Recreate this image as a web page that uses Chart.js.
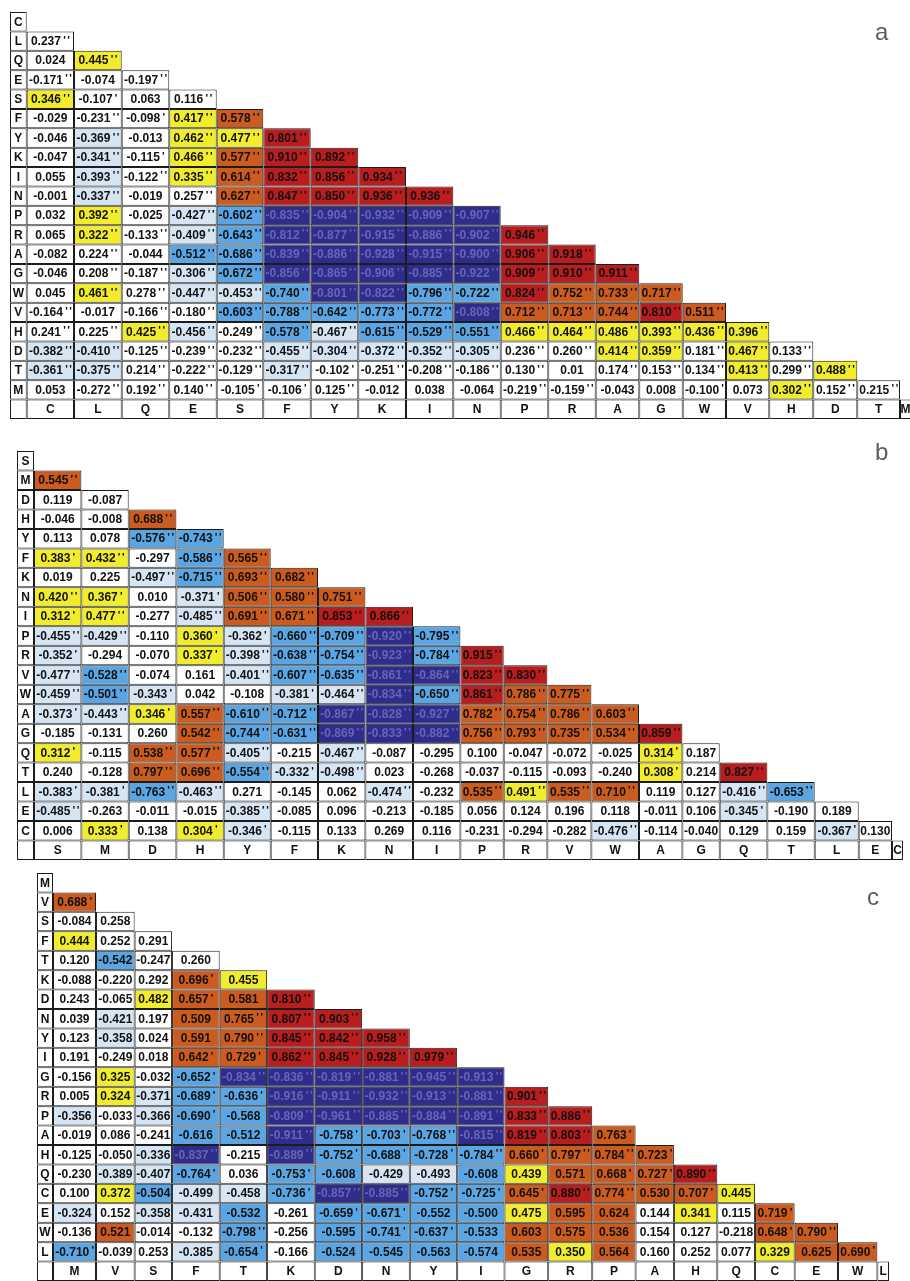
<!DOCTYPE html>
<html>
<head>
<meta charset="utf-8">
<script src="https://cdn.jsdelivr.net/npm/chart.js@4.4.1/dist/chart.umd.min.js"></script>
<style>
  html, body { margin: 0; padding: 0; width: 910px; height: 1281px; overflow: hidden; background: #fff; }
  canvas { position: absolute; }
  .tag { position: absolute; font: 24px "Liberation Sans", Arial, sans-serif; color: #5c5c5c; line-height: 24px; }
</style>
</head>
<body>
<canvas id="panelA" width="901" height="407" style="left:10px;top:12px;width:901px;height:407px"></canvas>
<canvas id="panelB" width="886" height="409" style="left:17px;top:451px;width:886px;height:409px"></canvas>
<canvas id="panelC" width="852" height="408" style="left:37px;top:873px;width:852px;height:408px"></canvas>
<div class="tag" style="left:875px;top:20px">a</div>
<div class="tag" style="left:875px;top:440px">b</div>
<div class="tag" style="left:867px;top:885px">c</div>
<script>
// ---- panel a: residue order and lower-triangle correlations (' = p<0.05, '' = p<0.01)
const aOrder = ['C','L','Q','E','S','F','Y','K','I','N','P','R','A','G','W','V','H','D','T','M'];
const aCells = [
  [],
  ["0.237''"],
  ["0.024","0.445''"],
  ["-0.171''","-0.074","-0.197''"],
  ["0.346''","-0.107'","0.063","0.116''"],
  ["-0.029","-0.231''","-0.098'","0.417''","0.578''"],
  ["-0.046","-0.369''","-0.013","0.462''","0.477''","0.801''"],
  ["-0.047","-0.341''","-0.115'","0.466''","0.577''","0.910''","0.892''"],
  ["0.055","-0.393''","-0.122''","0.335''","0.614''","0.832''","0.856''","0.934''"],
  ["-0.001","-0.337''","-0.019","0.257''","0.627''","0.847''","0.850''","0.936''","0.936''"],
  ["0.032","0.392''","-0.025","-0.427''","-0.602''","-0.835''","-0.904''","-0.932''","-0.909''","-0.907''"],
  ["0.065","0.322''","-0.133''","-0.409''","-0.643''","-0.812''","-0.877''","-0.915''","-0.886''","-0.902''","0.946''"],
  ["-0.082","0.224''","-0.044","-0.512''","-0.686''","-0.839''","-0.886''","-0.928''","-0.915''","-0.900''","0.906''","0.918''"],
  ["-0.046","0.208''","-0.187''","-0.306''","-0.672''","-0.856''","-0.865''","-0.906''","-0.885''","-0.922''","0.909''","0.910''","0.911''"],
  ["0.045","0.461''","0.278''","-0.447''","-0.453''","-0.740''","-0.801''","-0.822''","-0.796''","-0.722''","0.824''","0.752''","0.733''","0.717''"],
  ["-0.164''","-0.017","-0.166''","-0.180''","-0.603''","-0.788''","-0.642''","-0.773''","-0.772''","-0.808''","0.712''","0.713''","0.744''","0.810''","0.511''"],
  ["0.241''","0.225''","0.425''","-0.456''","-0.249''","-0.578''","-0.467''","-0.615''","-0.529''","-0.551''","0.466''","0.464''","0.486''","0.393''","0.436''","0.396''"],
  ["-0.382''","-0.410''","-0.125''","-0.239''","-0.232''","-0.455''","-0.304''","-0.372''","-0.352''","-0.305''","0.236''","0.260''","0.414''","0.359''","0.181''","0.467''","0.133''"],
  ["-0.361''","-0.375''","0.214''","-0.222''","-0.129''","-0.317''","-0.102'","-0.251''","-0.208''","-0.186''","0.130''","0.01","0.174''","0.153''","0.134''","0.413''","0.299''","0.488''"],
  ["0.053","-0.272''","0.192''","0.140''","-0.105'","-0.106'","0.125''","-0.012","0.038","-0.064","-0.219''","-0.159''","-0.043","0.008","-0.100'","0.073","0.302''","0.152''","0.215''"]
];

// ---- panel b
const bOrder = ['S','M','D','H','Y','F','K','N','I','P','R','V','W','A','G','Q','T','L','E','C'];
const bCells = [
  [],
  ["0.545''"],
  ["0.119","-0.087"],
  ["-0.046","-0.008","0.688''"],
  ["0.113","0.078","-0.576''","-0.743''"],
  ["0.383'","0.432''","-0.297","-0.586''","0.565''"],
  ["0.019","0.225","-0.497''","-0.715''","0.693''","0.682''"],
  ["0.420''","0.367'","0.010","-0.371'","0.506''","0.580''","0.751''"],
  ["0.312'","0.477''","-0.277","-0.485''","0.691''","0.671''","0.853''","0.866''"],
  ["-0.455''","-0.429''","-0.110","0.360'","-0.362'","-0.660''","-0.709''","-0.920''","-0.795''"],
  ["-0.352'","-0.294","-0.070","0.337'","-0.398''","-0.638''","-0.754''","-0.923''","-0.784''","0.915''"],
  ["-0.477''","-0.528''","-0.074","0.161","-0.401''","-0.607''","-0.635''","-0.861''","-0.864''","0.823''","0.830''"],
  ["-0.459''","-0.501''","-0.343'","0.042","-0.108","-0.381'","-0.464''","-0.834''","-0.650''","0.861''","0.786''","0.775''"],
  ["-0.373'","-0.443''","0.346'","0.557''","-0.610''","-0.712''","-0.867''","-0.828''","-0.927''","0.782''","0.754''","0.786''","0.603''"],
  ["-0.185","-0.131","0.260","0.542''","-0.744''","-0.631''","-0.869''","-0.833''","-0.882''","0.756''","0.793''","0.735''","0.534''","0.859''"],
  ["0.312'","-0.115","0.538''","0.577''","-0.405''","-0.215","-0.467''","-0.087","-0.295","0.100","-0.047","-0.072","-0.025","0.314'","0.187"],
  ["0.240","-0.128","0.797''","0.696''","-0.554''","-0.332'","-0.498''","0.023","-0.268","-0.037","-0.115","-0.093","-0.240","0.308'","0.214","0.827''"],
  ["-0.383'","-0.381'","-0.763''","-0.463''","0.271","-0.145","0.062","-0.474''","-0.232","0.535''","0.491''","0.535''","0.710''","0.119","0.127","-0.416''","-0.653''"],
  ["-0.485''","-0.263","-0.011","-0.015","-0.385''","-0.085","0.096","-0.213","-0.185","0.056","0.124","0.196","0.118","-0.011","0.106","-0.345'","-0.190","0.189"],
  ["0.006","0.333'","0.138","0.304'","-0.346'","-0.115","0.133","0.269","0.116","-0.231","-0.294","-0.282","-0.476''","-0.114","-0.040","0.129","0.159","-0.367'","0.130"]
];

// ---- panel c
const cOrder = ['M','V','S','F','T','K','D','N','Y','I','G','R','P','A','H','Q','C','E','W','L'];
const cCells = [
  [],
  ["0.688'"],
  ["-0.084","0.258"],
  ["0.444","0.252","0.291"],
  ["0.120","-0.542","-0.247","0.260"],
  ["-0.088","-0.220","0.292","0.696'","0.455"],
  ["0.243","-0.065","0.482","0.657'","0.581","0.810''"],
  ["0.039","-0.421","0.197","0.509","0.765''","0.807''","0.903''"],
  ["0.123","-0.358","0.024","0.591","0.790''","0.845''","0.842''","0.958''"],
  ["0.191","-0.249","0.018","0.642'","0.729'","0.862''","0.845''","0.928''","0.979''"],
  ["-0.156","0.325","-0.032","-0.652'","-0.834''","-0.836''","-0.819''","-0.881''","-0.945''","-0.913''"],
  ["0.005","0.324","-0.371","-0.689'","-0.636'","-0.916''","-0.911''","-0.932''","-0.913''","-0.881''","0.901''"],
  ["-0.356","-0.033","-0.366","-0.690'","-0.568","-0.809''","-0.961''","-0.885''","-0.884''","-0.891''","0.833''","0.886''"],
  ["-0.019","0.086","-0.241","-0.616","-0.512","-0.911''","-0.758'","-0.703'","-0.768''","-0.815''","0.819''","0.803''","0.763'"],
  ["-0.125","-0.050","-0.336","-0.837''","-0.215","-0.889''","-0.752'","-0.688'","-0.728'","-0.784''","0.660'","0.797''","0.784''","0.723'"],
  ["-0.230","-0.389","-0.407","-0.764'","0.036","-0.753'","-0.608","-0.429","-0.493","-0.608","0.439","0.571","0.668'","0.727'","0.890''"],
  ["0.100","0.372","-0.504","-0.499","-0.458","-0.736'","-0.857''","-0.885''","-0.752'","-0.725'","0.645'","0.880''","0.774''","0.530","0.707'","0.445"],
  ["-0.324","0.152","-0.358","-0.431","-0.532","-0.261","-0.659'","-0.671'","-0.552","-0.500","0.475","0.595","0.624","0.144","0.341","0.115","0.719'"],
  ["-0.136","0.521","-0.014","-0.132","-0.798''","-0.256","-0.595","-0.741'","-0.637'","-0.533","0.603","0.575","0.536","0.154","0.127","-0.218","0.648'","0.790''"],
  ["-0.710'","-0.039","0.253","-0.385","-0.654'","-0.166","-0.524","-0.545","-0.563","-0.574","0.535","0.350","0.564","0.160","0.252","0.077","0.329","0.625","0.690'"]
];

// ---- table layout: label column width, then one width per residue column (last one only holds a label)
const aColWidths = [16.7,47.3,47.7,47.6,47.4,46.6,47.4,47.6,47.7,47.3,47.4,47.6,47.4,43.6,43.4,43.3,43.3,44,44,42.7,11];
const bColWidths = [17,47.4,47.3,47.7,47.3,47,47.3,47.4,47.6,47.4,43.3,43.7,44,47.6,43.4,37.3,47.7,47.3,44,33.3,11];
const cColWidths = [16,43,38.6,37.4,47.6,47.4,47.6,47.4,47.6,47.4,47.3,43.7,44,43.3,38.3,43.4,37.6,39.7,43.3,39.4,11.6];

// colour classes by correlation strength
const FILL = {
  red: '#b91d1e', orange: '#cc5b1f', yellow: '#f1ec2c',
  navy: '#2f2d8c', blue: '#5ba6e2', pale: '#d5e5f4', none: '#ffffff'
};
function fillFor(v) {
  if (v >= 0.8) return FILL.red;
  if (v >= 0.5) return FILL.orange;
  if (v >= 0.3) return FILL.yellow;
  if (v <= -0.8) return FILL.navy;
  if (v <= -0.5) return FILL.blue;
  if (v <= -0.3) return FILL.pale;
  return FILL.none;
}

const FONT_FAMILY = '"Liberation Sans", Arial, sans-serif';
const HEAD_ROW = ' ';

// writes the value (and its significance ticks) or the residue letter into each cell
const cellText = {
  id: 'cellText',
  afterDatasetsDraw(chart) {
    const ctx = chart.ctx;
    const meta = chart.getDatasetMeta(0);
    const pts = chart.data.datasets[0].data;
    ctx.save();
    ctx.textBaseline = 'middle';
    meta.data.forEach((bar, k) => {
      const d = pts[k];
      if (!d.t) return;
      const p = bar.getProps(['x', 'y', 'base'], true);
      const cx = (p.x + p.base) / 2;
      const cy = p.y + 0.5;
      ctx.fillStyle = (d.v !== undefined && d.v <= -0.8) ? '#6765b4' : '#111';
      if (d.v === undefined) {
        ctx.font = 'bold 12px ' + FONT_FAMILY;
        ctx.textAlign = 'center';
        ctx.fillText(d.t, cx, cy);
        return;
      }
      const m = d.t.match(/^([^']*)('*)$/);
      const num = m[1], ticks = m[2].length;
      ctx.font = 'bold 12px ' + FONT_FAMILY;
      const wNum = ctx.measureText(num).width;
      const step = 4.2, wTick = 2.4, gap = 2.2;
      const wTicks = ticks ? (ticks - 1) * step + wTick : 0;
      const total = wNum + (ticks ? gap + wTicks : 0);
      const x0 = cx - total / 2;
      ctx.textAlign = 'left';
      ctx.fillText(num, x0, cy);
      ctx.font = 'bold 11px ' + FONT_FAMILY;
      for (let t = 0; t < ticks; t++) {
        ctx.fillText("'", x0 + wNum + gap + t * step, cy - 1);
      }
    });
    ctx.restore();
  }
};

function drawPanel(id, order, cells, widths) {
  const edges = [0];
  widths.forEach(w => edges.push(edges[edges.length - 1] + w));
  const n = order.length;
  const rows = order.concat([HEAD_ROW]);
  const pts = [];
  for (let i = 0; i < n; i++) {
    pts.push({ x: [edges[0], edges[1]], y: rows[i], t: order[i] });
    cells[i].forEach((s, j) => {
      pts.push({ x: [edges[j + 1], edges[j + 2]], y: rows[i], t: s, v: parseFloat(s) });
    });
  }
  // bottom row: column headings
  pts.push({ x: [edges[0], edges[1]], y: HEAD_ROW, t: '' });
  for (let j = 0; j < n; j++) {
    pts.push({ x: [edges[j + 1], edges[j + 2]], y: HEAD_ROW, t: order[j] });
  }

  new Chart(document.getElementById(id), {
    type: 'bar',
    data: {
      labels: rows,
      datasets: [{
        data: pts,
        backgroundColor: ctx => (ctx.raw && ctx.raw.v !== undefined) ? fillFor(ctx.raw.v) : '#ffffff',
        borderColor: '#1c1c1c',
        borderWidth: 1,
        borderSkipped: false,
        inflateAmount: 0,
        barPercentage: 1,
        categoryPercentage: 1
      }]
    },
    options: {
      indexAxis: 'y',
      responsive: false,
      animation: false,
      devicePixelRatio: 1,
      events: [],
      layout: { padding: 0 },
      plugins: { legend: { display: false }, tooltip: { enabled: false } },
      scales: {
        x: { type: 'linear', min: 0, max: edges[edges.length - 1], display: false },
        y: { type: 'category', offset: true, display: false }
      }
    },
    plugins: [cellText]
  });
}

drawPanel('panelA', aOrder, aCells, aColWidths);
drawPanel('panelB', bOrder, bCells, bColWidths);
drawPanel('panelC', cOrder, cCells, cColWidths);
</script>
</body>
</html>
